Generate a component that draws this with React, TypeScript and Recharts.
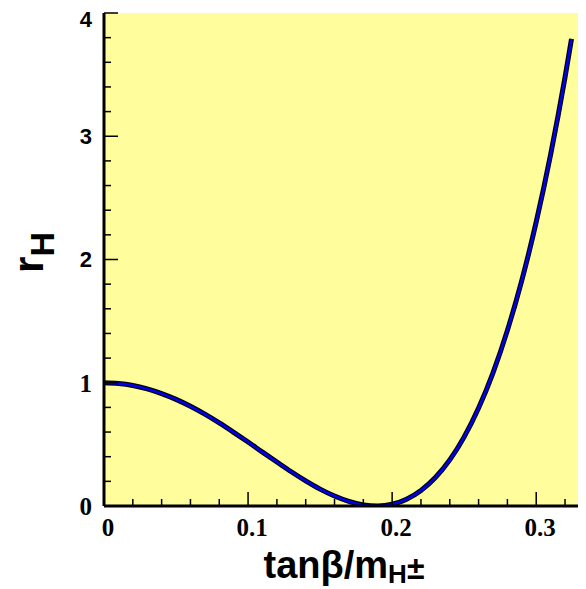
import { CartesianGrid, Label, Line, LineChart, XAxis, YAxis } from "recharts";

// tanβ/m_H± values and the r_H
const tanBetaOverMh = [
  0, 0.01, 0.02, 0.03, 0.04, 0.05, 0.06, 0.07, 0.08, 0.09, 0.1, 0.11, 0.12, 0.13, 0.14, 0.15, 0.16,
  0.17, 0.18, 0.19, 0.2, 0.21, 0.22, 0.23, 0.24, 0.25, 0.26, 0.27, 0.28, 0.29, 0.3, 0.31, 0.32, 0.3245,
];
const rH = [
  1.0, 0.994, 0.978, 0.95, 0.912, 0.865, 0.809, 0.745, 0.674, 0.598, 0.519, 0.437, 0.357, 0.278, 0.204,
  0.137, 0.081, 0.037, 0.009, 0.0, 0.014, 0.055, 0.126, 0.231, 0.374, 0.561, 0.795, 1.081, 1.425, 1.831,
  2.305, 2.852, 3.479, 3.79,
];

const xTicks = [
  0, 0.02, 0.04, 0.06, 0.08, 0.1, 0.12, 0.14, 0.16, 0.18, 0.2, 0.22, 0.24, 0.26, 0.28, 0.3, 0.32,
];
const yTicks = [
  0, 0.2, 0.4, 0.6, 0.8, 1, 1.2, 1.4, 1.6, 1.8, 2, 2.2, 2.4, 2.6, 2.8, 3, 3.2, 3.4, 3.6, 3.8, 4,
];
const xLabels: Record<string, string> = { "0": "0", "0.1": "0.1", "0.2": "0.2", "0.3": "0.3" };

const data = tanBetaOverMh.map((x, i) => ({ x, r: rH[i] }));

const X_DOMAIN: [number, number] = [0, 0.329];
const Y_DOMAIN: [number, number] = [0, 4];
const MAJOR = 14;
const MINOR = 7;

const isMajorX = (v: number) => Math.abs(v * 10 - Math.round(v * 10)) < 1e-6;
const isMajorY = (v: number) => Math.abs(v - Math.round(v)) < 1e-6;

const BottomTick = (props: any) => {
  const { x, y, payload } = props;
  const v = payload.value as number;
  const major = isMajorX(v);
  const key = String(Math.round(v * 10) / 10);
  return (
    <g>
      <line x1={x} x2={x} y1={y} y2={y - (major ? MAJOR : MINOR)} stroke="#000" strokeWidth={1.5} />
      {major && (
        <text
          x={x + 4}
          y={y + 30}
          textAnchor="middle"
          fontFamily="'Liberation Serif', serif"
          fontWeight="bold"
          fontSize={25}
          fill="#000"
        >
          {xLabels[key]}
        </text>
      )}
    </g>
  );
};

const TopTick = (props: any) => {
  const { x, y, payload } = props;
  const major = isMajorX(payload.value);
  return <line x1={x} x2={x} y1={y} y2={y + (major ? MAJOR : MINOR)} stroke="#000" strokeWidth={1.5} />;
};

const LeftTick = (props: any) => {
  const { x, y, payload } = props;
  const v = payload.value as number;
  const major = isMajorY(v);
  const sans = v >= 2;
  return (
    <g>
      <line x1={x} x2={x + (major ? MAJOR : MINOR)} y1={y} y2={y} stroke="#000" strokeWidth={1.5} />
      {major && (
        <text
          x={x - 12}
          y={y + (v === 4 ? 6 : 0)}
          dy="0.35em"
          textAnchor="end"
          fontFamily={sans ? "'Liberation Sans', sans-serif" : "'Liberation Serif', serif"}
          fontWeight="bold"
          fontSize={sans ? 22 : 25}
          fill="#000"
        >
          {Math.round(v)}
        </text>
      )}
    </g>
  );
};

const RightTick = (props: any) => {
  const { x, y, payload } = props;
  const major = isMajorY(payload.value);
  return <line x1={x} x2={x - (major ? MAJOR : MINOR)} y1={y} y2={y} stroke="#000" strokeWidth={1.5} />;
};

const XTitle = (props: any) => {
  const { viewBox } = props;
  return (
    <text
      x={viewBox.x + viewBox.width / 2 + 3}
      y={viewBox.y + 72}
      textAnchor="middle"
      fontFamily="'Liberation Sans', Arial, sans-serif"
      fontWeight="bold"
      fontSize={38}
      fill="#000"
    >
      tanβ/m
      <tspan dy={5} fontSize={26}>
        H
      </tspan>
      <tspan dy={-4} fontSize={32}>
        ±
      </tspan>
    </text>
  );
};

const YTitle = (props: any) => {
  const { viewBox } = props;
  const cx = viewBox.x + 43;
  const cy = viewBox.y + viewBox.height / 2 - 7;
  return (
    <text
      x={cx}
      y={cy}
      transform={`rotate(-90, ${cx}, ${cy})`}
      textAnchor="middle"
      fontFamily="'Liberation Sans', Arial, sans-serif"
      fontWeight="bold"
      fontSize={42}
      fill="#000"
    >
      r
      <tspan dy={11} fontSize={34}>
        H
      </tspan>
    </text>
  );
};

export default function App() {
  return (
    <div style={{ position: "absolute", left: 0, top: 0, width: 586, height: 589, background: "#fff" }}>
      <LineChart width={586} height={589} data={data} margin={{ top: 13, right: 8, bottom: 0, left: 0 }}>
        <CartesianGrid
          xAxisId="b"
          yAxisId="l"
          horizontal={false}
          vertical={false}
          fill="#fffd9c"
          fillOpacity={1}
          stroke="none"
        />
        <XAxis
          xAxisId="b"
          dataKey="x"
          type="number"
          domain={X_DOMAIN}
          ticks={xTicks}
          allowDataOverflow
          height={83}
          tickSize={0}
          tickMargin={0}
          tickLine={false}
          axisLine={{ stroke: "#000", strokeWidth: 3 }}
          tick={<BottomTick />}
          interval={0}
        >
          <Label content={<XTitle />} />
        </XAxis>
        <XAxis
          xAxisId="t"
          orientation="top"
          type="number"
          domain={X_DOMAIN}
          ticks={xTicks}
          allowDataOverflow
          height={0}
          tickSize={0}
          tickMargin={0}
          tickLine={false}
          axisLine={{ stroke: "#000", strokeWidth: 3 }}
          tick={<TopTick />}
          interval={0}
        />
        <YAxis
          yAxisId="l"
          type="number"
          domain={Y_DOMAIN}
          ticks={yTicks}
          allowDataOverflow
          width={104}
          tickSize={0}
          tickMargin={0}
          tickLine={false}
          axisLine={{ stroke: "#000", strokeWidth: 3 }}
          tick={<LeftTick />}
          interval={0}
        >
          <Label content={<YTitle />} />
        </YAxis>
        <YAxis
          yAxisId="r"
          orientation="right"
          type="number"
          domain={Y_DOMAIN}
          ticks={yTicks}
          allowDataOverflow
          width={0}
          tickSize={0}
          tickMargin={0}
          tickLine={false}
          axisLine={{ stroke: "#000", strokeWidth: 3 }}
          tick={<RightTick />}
          interval={0}
        />
        <Line
          xAxisId="b"
          yAxisId="l"
          dataKey="r"
          type="monotone"
          stroke="#000"
          strokeWidth={5}
          dot={false}
          activeDot={false}
          isAnimationActive={false}
        />
        <Line
          xAxisId="b"
          yAxisId="l"
          dataKey="r"
          type="monotone"
          stroke="#0000f0"
          strokeWidth={2.5}
          dot={false}
          activeDot={false}
          isAnimationActive={false}
        />
      </LineChart>
    </div>
  );
}
